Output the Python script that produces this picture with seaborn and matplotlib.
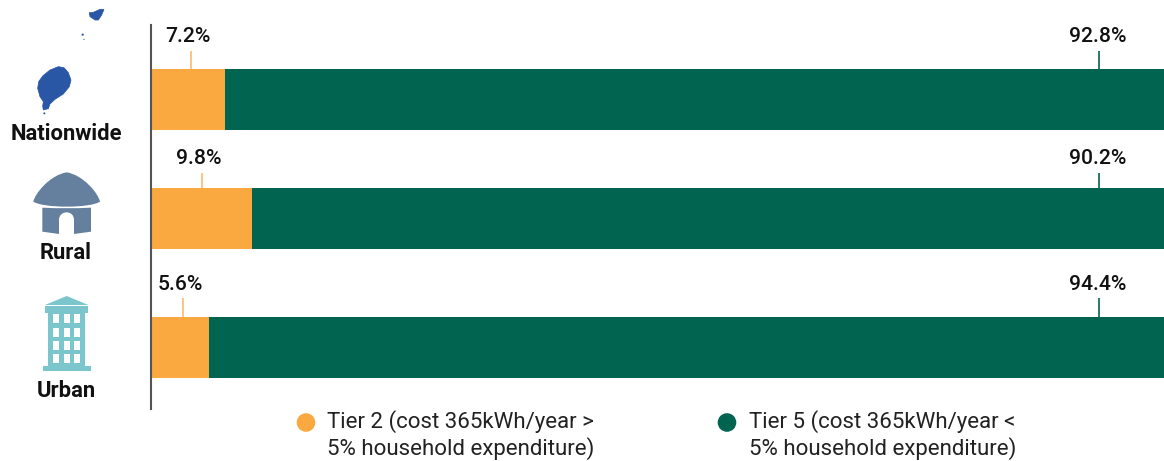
import matplotlib
matplotlib.use('Agg')
import matplotlib.pyplot as plt
import seaborn as sns
import pandas as pd
from matplotlib.path import Path
from matplotlib.patches import PathPatch, Polygon, Rectangle, Circle

categories = ['Nationwide', 'Rural', 'Urban']
tier2 = [7.2, 9.8, 5.6]
tier5 = [92.8, 90.2, 94.4]
legend_labels = ['Tier 2 (cost 365kWh/year >\n5% household expenditure)',
                 'Tier 5 (cost 365kWh/year <\n5% household expenditure)']

ORANGE = '#F9A93F'
GREEN = '#016450'
FONT = 'Roboto'

W, H = 1164, 461
sns.set_theme(style='white')
plt.rcParams['font.family'] = [FONT, 'DejaVu Sans']

fig = plt.figure(figsize=(W / 100, H / 100), dpi=100)

# chart area, axis line runs y=25..409 in the picture
top, bottom, left = 25, 409, 151
ax = fig.add_axes([left / W, 1 - bottom / H, 1 - left / W, (bottom - top) / H])

# rows are not evenly spaced in the original, so keep a numeric y scale
row_y = [74.5, 193.5, 322.5]
df = pd.DataFrame({'cat': categories, 'y': row_y, 't2': tier2, 't5': tier5})
df['total'] = df['t2'] + df['t5']

bar_w = 61 / 119
sns.barplot(data=df, x='total', y='y', orient='h', native_scale=True, width=bar_w,
            color=GREEN, saturation=1, linewidth=0, errorbar=None, ax=ax)
sns.barplot(data=df, x='t2', y='y', orient='h', native_scale=True, width=bar_w,
            color=ORANGE, saturation=1, linewidth=0, errorbar=None, ax=ax)

ax.set_xlim(0, (W - left) / 10.32)
ax.set_ylim(bottom - top, 0)
ax.set_xlabel('')
ax.set_ylabel('')
ax.set_xticks([])
ax.set_yticks([])
sns.despine(ax=ax, top=True, right=True, bottom=True)
ax.spines['left'].set_color('#555555')
ax.spines['left'].set_linewidth(1.5)

# leader lines and value labels
orange_lead = [3.9, 4.9, 3.1]
right_leader = 91.9
lead_len = [18, 15, 19]
label_up = [32, 29, 32]
for i, (a, b) in enumerate(zip(tier2, tier5)):
    y0 = row_y[i] - 30.5
    ax.vlines(orange_lead[i], y0 - lead_len[i], y0, color='#F9BC6E', lw=1.2)
    ax.vlines(right_leader, y0 - lead_len[i], y0, color=GREEN, lw=1.2)
    ax.text(orange_lead[i] - 0.3, y0 - label_up[i], f'{a}%', ha='center', va='center',
            fontsize=15.2, fontweight='medium', color='#111111')
    ax.text(right_leader - 0.2, y0 - label_up[i], f'{b}%', ha='center', va='center',
            fontsize=15.2, fontweight='medium', color='#111111')

# overlay in picture pixels for the icons, row names and legend
ov = fig.add_axes([0, 0, 1, 1], facecolor='none')
ov.set_xlim(0, W)
ov.set_ylim(H, 0)
ov.axis('off')

label_y = [134, 253, 391]
for name, y in zip(categories, label_y):
    ov.text(66, y, name, ha='center', va='center', fontsize=15.8, fontweight='bold', color='#111111')

# map icon
BLUE = '#2A56A6'
island = [(175, 200), (192, 203), (205, 218), (213, 240), (208, 260), (190, 282), (165, 298), (150, 312),
          (145, 326), (130, 330), (128, 318), (130, 305), (120, 290), (113, 265), (116, 245), (128, 228), (150, 210)]
islet = [(268, 38), (280, 37), (300, 28), (312, 28), (305, 45), (295, 60), (285, 60), (270, 50)]
for pts in (island, islet):
    ov.add_patch(Polygon([(x / 3, y / 3) for x, y in pts], closed=True, fc=BLUE, ec=BLUE, lw=0.5))
for x, y, r in [(248, 104, 1.1), (252, 118, 0.6), (133, 340, 1.0)]:
    ov.add_patch(Circle((x / 3, y / 3), r, fc=BLUE, ec='none'))

# hut icon
HUT = '#64809E'
def z(x, y):
    return (x / 3, 160 + y / 3)
roof = [z(200, 37), z(150, 45), z(105, 100), z(100, 125),
        z(130, 145), z(270, 145), z(300, 125),
        z(295, 100), z(250, 45), z(200, 37), z(200, 37)]
roof_codes = [Path.MOVETO, Path.CURVE4, Path.CURVE4, Path.CURVE4, Path.CURVE4, Path.CURVE4, Path.CURVE4,
              Path.CURVE4, Path.CURVE4, Path.CURVE4, Path.CLOSEPOLY]
ov.add_patch(PathPatch(Path(roof, roof_codes), fc=HUT, ec='none'))
wall = [z(127, 143), z(200, 147), z(273, 143), z(273, 215), z(222, 222), z(222, 180), z(222, 165), z(212, 157), z(200, 157),
        z(188, 157), z(177, 165), z(177, 180), z(177, 222), z(127, 215), z(127, 143)]
wall_codes = [Path.MOVETO, Path.CURVE3, Path.CURVE3, Path.LINETO, Path.LINETO, Path.LINETO, Path.CURVE4, Path.CURVE4, Path.CURVE4,
              Path.CURVE4, Path.CURVE4, Path.CURVE4, Path.LINETO, Path.LINETO, Path.CLOSEPOLY]
ov.add_patch(PathPatch(Path(wall, wall_codes), fc=HUT, ec='none'))

# building icon
TEAL = '#7BC6CC'
ov.add_patch(Polygon([z(135, 435), z(200, 408), z(265, 435)], closed=True, fc=TEAL, ec='none'))
for x0, y0, x1, y1, col in [(135, 439, 265, 459, TEAL), (145, 459, 255, 618, TEAL), (128, 618, 272, 632, TEAL)]:
    ov.add_patch(Rectangle(z(x0, y0), (x1 - x0) / 3, (y1 - y0) / 3, fc=col, ec='none'))
for wx in (160, 191, 222):
    for wy in (463, 503, 543, 583):
        ov.add_patch(Rectangle(z(wx, wy), 18 / 3, 27 / 3, fc='white', ec='none'))

# legend, marker lines up with the first text line so it is drawn by hand
for cx, tx, col, lab in [(306, 327, ORANGE, legend_labels[0]), (727, 749, GREEN, legend_labels[1])]:
    ov.add_patch(Circle((cx, 422.5), 9.3, fc=col, ec='none'))
    ov.text(tx, 435, lab, ha='left', va='center', fontsize=16, color='#222222', linespacing=1.2)

fig.savefig('out.png', dpi=100)
